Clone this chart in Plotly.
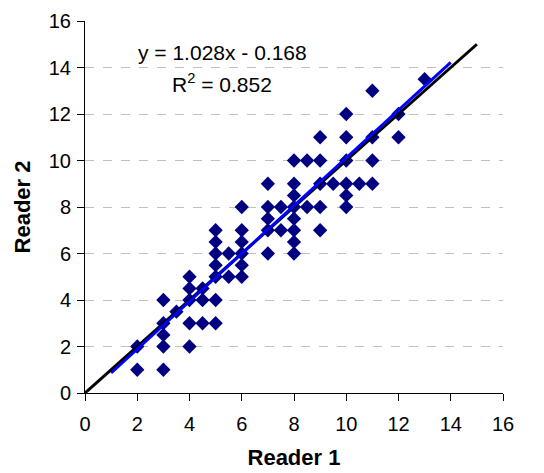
import plotly.graph_objects as go

reader1 = [2, 2,
           3, 3, 3, 3, 3,
           3.5,
           4, 4, 4, 4, 4,
           4.5, 4.5, 4.5,
           5, 5, 5, 5, 5, 5, 5,
           5.5, 5.5,
           6, 6, 6, 6, 6, 6,
           7, 7, 7, 7, 7,
           7.5, 7.5,
           8, 8, 8, 8, 8, 8, 8, 8,
           8.5, 8.5,
           9, 9, 9, 9, 9,
           9.5,
           10, 10, 10, 10, 10, 10,
           10.5,
           11, 11, 11, 11,
           12, 12,
           13]
reader2 = [1, 2,
           1, 2, 2.5, 3, 4,
           3.5,
           2, 3, 4, 4.5, 5,
           3, 4, 4.5,
           3, 4, 5, 5.5, 6, 6.5, 7,
           5, 6,
           5, 5.5, 6, 6.5, 7, 8,
           6, 7, 7.5, 8, 9,
           7, 8,
           6, 6.5, 7, 7.5, 8, 8.5, 9, 10,
           8, 10,
           7, 8, 9, 10, 11,
           9,
           8, 8.5, 9, 10, 11, 12,
           9,
           9, 10, 11, 13,
           11, 12,
           13.5]

identity_x = [0, 15]
identity_y = [0, 15]
slope, intercept, r2 = 1.028, -0.168, 0.852
trend_x = [1, 14]
trend_y = [slope * x + intercept for x in trend_x]
ticks = [0, 2, 4, 6, 8, 10, 12, 14, 16]

fig = go.Figure()
fig.add_trace(go.Scatter(x=reader1, y=reader2, mode="markers",
                         marker=dict(symbol="diamond", size=11, color="#000080",
                                     line=dict(width=0)),
                         showlegend=False))
fig.add_trace(go.Scatter(x=identity_x, y=identity_y, mode="lines",
                         line=dict(color="black", width=3), showlegend=False))
fig.add_trace(go.Scatter(x=trend_x, y=trend_y, mode="lines",
                         line=dict(color="#0000ff", width=3), showlegend=False))

ann_font = dict(family="Arial, Liberation Sans", size=21, color="black")
fig.add_annotation(x=0.328, y=0.914, xref="paper", yref="paper",
                   xanchor="center", yanchor="middle",
                   text=f"y = {slope}x - {abs(intercept)}", showarrow=False,
                   font=ann_font)
fig.add_annotation(x=0.328, y=0.833, xref="paper", yref="paper",
                   xanchor="center", yanchor="middle",
                   text=f"R<sup>2</sup> = {r2}", showarrow=False,
                   font=ann_font)

tick_font = dict(family="Arial, Liberation Sans", size=20, color="black")
title_font = dict(family="Arial, Liberation Sans", size=22, color="black")
fig.update_layout(
    width=536, height=465,
    margin=dict(l=77, r=41, t=13, b=80, autoexpand=False),
    plot_bgcolor="white", paper_bgcolor="white",
    font=tick_font,
    xaxis=dict(range=[0, 16], tickvals=ticks, ticks="outside", ticklen=7,
               tickcolor="black", showline=True, linecolor="black", linewidth=1,
               showgrid=False, zeroline=False, tickfont=tick_font,
               ticklabelstandoff=6, automargin=False,
               title=dict(text="<b>Reader 1</b>", font=title_font, standoff=15)),
    yaxis=dict(range=[0, 16], tickvals=ticks, ticks="outside", ticklen=7,
               tickcolor="black", showline=True, linecolor="black", linewidth=1,
               showgrid=True, gridcolor="#c0c0c0", griddash="dash", gridwidth=1,
               zeroline=False, tickfont=tick_font, ticklabelstandoff=2,
               automargin=False,
               title=dict(text="<b>Reader 2</b>", font=title_font, standoff=12)),
)

fig.write_html("out.html")
